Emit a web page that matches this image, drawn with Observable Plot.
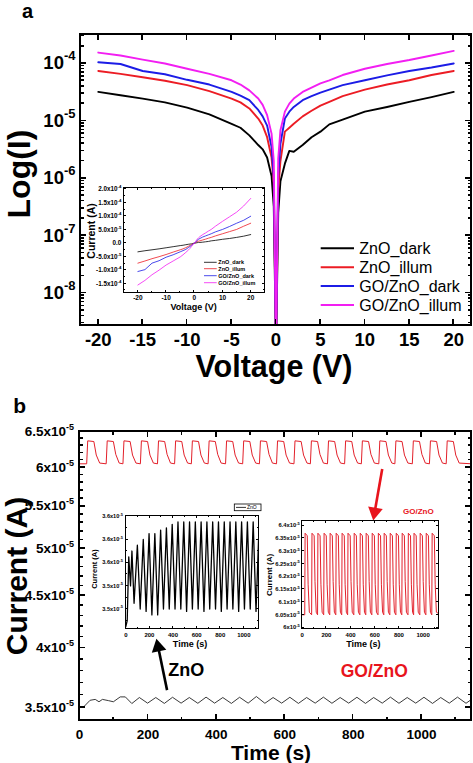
<!DOCTYPE html>
<html><head><meta charset="utf-8">
<script src="https://cdn.jsdelivr.net/npm/d3@7"></script>
<script src="https://cdn.jsdelivr.net/npm/@observablehq/plot@0.6"></script>
<style>
html,body{margin:0;padding:0;background:#fff;}
#fig{position:relative;width:473px;height:763px;overflow:hidden;}
</style></head><body><div id="fig"></div>
<script>
const FONT = '"Liberation Sans", Arial, Helvetica, sans-serif';

// ---------- Panel a: I-V curves (|I| in A) ----------
const voltage = [-20,-17.5,-15,-12.5,-10,-7.5,-5,-4,-3,-2,-1.5,-1,-0.5,-0.25,0,0.25,0.5,1,1.5,2,3,4,5,6,7.5,10,12.5,15,17.5,20];
const znoDark  = [3.2e-5,2.8e-5,2.45e-5,2.1e-5,1.7e-5,1.3e-5,8.9e-6,7.6e-6,5.6e-6,3.8e-6,3.2e-6,2.3e-6,1.1e-6,3.2e-7,1e-9,2.5e-7,8.9e-7,1.8e-6,3.0e-6,2.9e-6,3.8e-6,5.2e-6,6.5e-6,8.7e-6,1.05e-5,1.45e-5,1.75e-5,2.15e-5,2.6e-5,3.2e-5];
const znoIllum = [7.4e-5,6.6e-5,5.75e-5,5.0e-5,4.2e-5,3.3e-5,2.45e-5,2.1e-5,1.65e-5,1.1e-5,8.3e-6,5.2e-6,2.3e-6,8e-7,1e-9,6.3e-7,2.0e-6,6.5e-6,7.6e-6,8.9e-6,1.2e-5,1.5e-5,1.85e-5,2.15e-5,2.7e-5,3.5e-5,4.3e-5,5.1e-5,6.3e-5,7.4e-5];
const goDark   = [1.05e-4,9.8e-5,7.4e-5,6.5e-5,5.2e-5,4.3e-5,3.2e-5,2.75e-5,2.3e-5,1.55e-5,1.2e-5,8.3e-6,3.5e-6,1e-6,1e-9,1.1e-6,4e-6,1.1e-5,1.45e-5,1.75e-5,2.3e-5,2.7e-5,3.1e-5,3.5e-5,4.2e-5,5.1e-5,6.2e-5,7.4e-5,8.5e-5,1.0e-4];
const goIllum  = [1.55e-4,1.38e-4,1.17e-4,1.0e-4,8.1e-5,6.6e-5,5.1e-5,4.3e-5,3.4e-5,2.45e-5,1.9e-5,1.26e-5,6e-6,2e-6,1e-9,2.2e-6,6.9e-6,1.45e-5,2.0e-5,2.45e-5,3.2e-5,3.8e-5,4.5e-5,5.1e-5,6.3e-5,8.1e-5,9.8e-5,1.15e-4,1.38e-4,1.66e-4];
const seriesNames  = ["ZnO_dark","ZnO_illum","GO/ZnO_dark","GO/ZnO_illum"];
const seriesColors = ["#000000","#ec1c24","#1c1ce6","#f21ef2"];
const seriesValues = [znoDark, znoIllum, goDark, goIllum];
const xTicksA = [-20,-15,-10,-5,0,5,10,15,20];
const yTicksA = [1e-8,1e-7,1e-6,1e-5,1e-4];
const insetXTicksA = [-20,-10,0,10,20];
const insetYTicksA = [-1.5e-4,-1e-4,-5e-5,0,5e-5,1e-4,1.5e-4,2e-4];

// ---------- Panel b: transient photocurrent (units of 1e-5 A) ----------
const goZnoTime = [0, 21,24,42,49,59, 78,81,99,106,116, 127,130,148,155,165, 178,181,199,206,216, 228,231,249,256,266, 278,281,299,306,316, 327,330,348,355,365, 376,379,397,404,414, 427,430,448,455,465, 477,480,498,505,515, 526,529,547,554,564, 576,579,597,604,614, 627,630,648,655,665, 675,678,696,703,713, 725,728,746,753,763, 775,778,796,803,813, 824,827,845,852,862, 875,878,896,903,913, 922,925,943,950,960, 973,976,994,1001,1011, 1023,1026,1044,1051,1061, 1072,1075,1093,1100,1110, 1146];
const goZnoCurrent = [6.05, 6.05,6.37,6.36,6.17,6.06, 6.05,6.37,6.36,6.18,6.06, 6.05,6.37,6.36,6.17,6.06, 6.05,6.37,6.36,6.17,6.06, 6.05,6.37,6.36,6.18,6.06, 6.05,6.37,6.36,6.17,6.06, 6.05,6.37,6.36,6.17,6.06, 6.05,6.37,6.36,6.18,6.06, 6.05,6.37,6.36,6.17,6.06, 6.05,6.37,6.36,6.17,6.06, 6.05,6.37,6.36,6.18,6.06, 6.05,6.37,6.36,6.17,6.06, 6.05,6.37,6.36,6.17,6.06, 6.05,6.37,6.36,6.18,6.06, 6.05,6.37,6.36,6.17,6.06, 6.05,6.37,6.36,6.17,6.06, 6.05,6.37,6.36,6.18,6.06, 6.05,6.37,6.36,6.17,6.06, 6.05,6.37,6.36,6.17,6.06, 6.05,6.37,6.36,6.18,6.06, 6.05,6.37,6.36,6.17,6.06, 6.05,6.37,6.36,6.17,6.06, 6.05];
const znoTime = [0,12,31,46,57,67,85,99,119,134,153,175,199,223,248,272,297,321,346,370,395,419,444,468,493,517,542,566,591,615,640,664,689,713,738,762,787,811,836,860,885,909,934,958,983,1007,1032,1056,1081,1105,1130,1146];
const znoCurrent = [3.505,3.505,3.558,3.565,3.546,3.565,3.555,3.546,3.585,3.585,3.532,3.58,3.535,3.58,3.533,3.582,3.535,3.58,3.534,3.583,3.535,3.58,3.533,3.582,3.535,3.588,3.534,3.58,3.535,3.582,3.533,3.58,3.535,3.583,3.534,3.58,3.535,3.582,3.533,3.58,3.535,3.583,3.534,3.58,3.535,3.582,3.533,3.58,3.535,3.583,3.534,3.565];
const znoInsetTime = [0,12,25,40,52,70,98,122,148,172,197,221,246,270,295,319,344,368,393,417,442,466,491,515,540,564,589,613,638,662,687,711,736,760,785,809,834,858,883,907,932,956,981,1005,1030,1054,1079,1103,1128];
const znoInsetCurrent = [3.505,3.51,3.565,3.54,3.57,3.525,3.575,3.52,3.58,3.518,3.585,3.515,3.585,3.515,3.588,3.52,3.59,3.52,3.593,3.52,3.595,3.52,3.595,3.518,3.595,3.52,3.595,3.52,3.595,3.518,3.595,3.52,3.595,3.52,3.595,3.518,3.595,3.52,3.595,3.52,3.595,3.518,3.595,3.52,3.595,3.52,3.595,3.518,3.59];
const yTicksB = [3.5,4,4.5,5,5.5,6,6.5];
const xTicksB = [0,200,400,600,800,1000];
const xMinorB = [100,300,500,700,900,1100];
const znoInsetYTicks = [3.52,3.54,3.56,3.58,3.6];
const goInsetYTicks = [6.0,6.05,6.1,6.15,6.2,6.25,6.3,6.35,6.4];
const insetTimeTicks = [0,200,400,600,800,1000];
const arrowRows = [
  {t1:256, i1:3.64, t2:230, i2:4.01, color:"#000000", rot:-12},
  {t1:885, i1:5.98, t2:863, i2:5.43, color:"#e8141c", rot:-170}
];

// ---------- helpers ----------
const fig = document.getElementById("fig");
function mount(svg, left, top){
  svg.style.position="absolute"; svg.style.left=left+"px"; svg.style.top=top+"px";
  svg.style.overflow="visible"; svg.style.maxWidth="none";
  fig.appendChild(svg); return d3.select(svg);
}
function addText(sel, x, y, text, o={}){
  const t = sel.append("text").attr("x",x).attr("y",y).text(text)
    .attr("font-family",FONT).attr("font-size",o.size||12).attr("font-weight",o.weight||"bold")
    .attr("fill",o.fill||"black").attr("text-anchor",o.anchor||"start");
  if (o.rotate) t.attr("transform",`rotate(${o.rotate},${x},${y})`);
  return t;
}
function supify(sel, supSize, rise){
  sel.selectAll("text").each(function(){
    const s=this.textContent, i=s.indexOf("^"); if(i<0) return;
    const el=d3.select(this); el.text(null);
    el.append("tspan").text(s.slice(0,i));
    el.append("tspan").attr("dy",-rise).attr("font-size",supSize).text(s.slice(i+1));
  });
}
function sci(v, dec){
  if (v===0) return "0.0";
  const e=Math.floor(Math.log10(Math.abs(v))+1e-9);
  const m=v/Math.pow(10,e);
  return (dec==null? String(+m.toFixed(2)) : m.toFixed(dec)) + "x10^" + e;
}
function box(left, top, w, h, css){
  const d=document.createElement("div");
  d.style.cssText=`position:absolute;left:${left}px;top:${top}px;width:${w}px;height:${h}px;${css}`;
  fig.appendChild(d);
}
// frame + inward ticks, positioned with the plot's own scales (page offset offX, offY)
function frameTicks(svg, offX, offY, {xMaj=[],xMin=[],yMaj=[],yMin=[],maj=6,min=3.5,sw=1.5,fw=2.4}){
  const sx=svg.scale("x"), sy=svg.scale("y");
  const x0=sx.range[0]+offX, x1=sx.range[1]+offX, yb=sy.range[0]+offY, yt=sy.range[1]+offY;
  const tick=(l,t,w,h)=>box(l,t,w,h,"background:#000;");
  for (const [vals,len] of [[xMaj,maj],[xMin,min]]) for (const v of vals){ const x=sx.apply(v)+offX; tick(x-sw/2,yb-len,sw,len); tick(x-sw/2,yt,sw,len); }
  for (const [vals,len] of [[yMaj,maj],[yMin,min]]) for (const v of vals){ const y=sy.apply(v)+offY; tick(x0,y-sw/2,len,sw); tick(x1-len,y-sw/2,len,sw); }
  box(x0-fw/2, yt-fw/2, x1-x0+fw, yb-yt+fw, `box-sizing:border-box;border:${fw}px solid #000;`);
}
function yLabels(svg, sel, ticks, fmt, {size, pad, sup, rise}){
  const sy=svg.scale("y"), x0=svg.scale("x").range[0];
  for (const v of ticks) addText(sel, x0-pad, sy.apply(v)+size*0.35, fmt(v), {size, anchor:"end"});
  supify(sel, sup, rise);
}
const rowsA = seriesNames.flatMap((n,s)=>voltage.map((v,i)=>({V:v,I:seriesValues[s][i],s:n})));

// ---------- Panel a main ----------
const logMinor=[]; for(let e=-9;e<=-4;e++) for(let m=2;m<=9;m++){const v=m*Math.pow(10,e); if(v>2.8e-9&&v<3.2e-4) logMinor.push(v);}
const svgA = Plot.plot({
  width:473, height:380, marginLeft:80, marginRight:2, marginTop:34, marginBottom:55,
  x:{domain:[-22,22]}, y:{type:"log", domain:[2.73e-9,3.2e-4]},
  style:{fontFamily:FONT},
  marks:[
    ...seriesNames.map((n,s)=>Plot.line(rowsA.filter(d=>d.s===n),{x:"V",y:"I",stroke:seriesColors[s],strokeWidth:1.9,clip:true})),
    Plot.axisX({ticks:xTicksA,tickSize:0,tickPadding:7,fontSize:18.5,fontWeight:"bold",label:null,tickFormat:d=>String(d)}),
    Plot.axisY({ticks:yTicksA,tickSize:0,tickPadding:5,fontSize:18.5,fontWeight:"bold",label:null,tickFormat:d=>"10^"+Math.round(Math.log10(d))})
  ]
});
const A = mount(svgA,0,0);
supify(A,13,9);
addText(A,22,18,"a",{size:20});
addText(A,274,377,"Voltage (V)",{size:30.5,anchor:"middle"});
addText(A,30,174,"Log(I)",{size:32,anchor:"middle",rotate:-90});
seriesNames.forEach((n,i)=>{
  const y=[248.3,267.3,286,305][i];
  A.append("line").attr("x1",320.7).attr("x2",354).attr("y1",y).attr("y2",y).attr("stroke",seriesColors[i]).attr("stroke-width",2);
  addText(A,359.3,y+5.5,n,{size:16,weight:"normal"});
});

// ---------- Panel a inset (linear) ----------
const rowsAi = rowsA.map(d=>({V:d.V, I:Math.sign(d.V)*d.I, s:d.s}));
const svgAi = Plot.plot({
  width:190, height:133, marginLeft:43.3, marginTop:4.7, marginRight:5.7, marginBottom:23.7,
  x:{domain:[-25,25]}, y:{domain:[-1.84e-4,2.04e-4]},
  style:{fontFamily:FONT},
  marks:[
    ...seriesNames.map((n,s)=>Plot.line(rowsAi.filter(d=>d.s===n),{x:"V",y:"I",stroke:seriesColors[s],strokeWidth:0.8})),
    Plot.axisX({ticks:insetXTicksA,tickSize:0,tickPadding:2.5,fontSize:6.5,fontWeight:"bold",label:null,tickFormat:d=>String(d)}),
    Plot.axisY({ticks:insetYTicksA,tickSize:0,tickPadding:2.5,fontSize:6.3,fontWeight:"bold",label:null,tickFormat:d=>sci(d,1)})
  ]
});
const Ai = mount(svgAi,80,183);
supify(Ai,4.3,2.8);
addText(Ai,193.7-80,309.5-183,"Voltage (V)",{size:9,anchor:"middle"});
addText(Ai,95-80,231-183,"Current (A)",{size:10.5,anchor:"middle",rotate:-90});
seriesNames.forEach((n,i)=>{
  const y=[262.3,268.7,275.7,282.7][i]-183;
  Ai.append("line").attr("x1",204-80).attr("x2",216.7-80).attr("y1",y).attr("y2",y).attr("stroke",seriesColors[i]).attr("stroke-width",0.8);
  addText(Ai,218.3-80,y+2,n,{size:5.5});
});

// ---------- Panel b main ----------
const rowsGo = goZnoTime.map((t,i)=>({t, I:goZnoCurrent[i]}));
const rowsZnO = znoTime.map((t,i)=>({t, I:znoCurrent[i]}));
const minorB=[]; for(let v=34;v<=65;v++){ if(v%5) minorB.push(v/10); }
const svgB = Plot.plot({
  width:473, height:383, marginLeft:79, marginRight:2, marginTop:51, marginBottom:43,
  x:{domain:[0,1146]}, y:{type:"log", domain:[3.4,6.505], axis:null},
  style:{fontFamily:FONT},
  marks:[
    Plot.line(rowsGo,{x:"t",y:"I",stroke:"#e3202a",strokeWidth:1}),
    Plot.line(rowsZnO,{x:"t",y:"I",stroke:"#222",strokeWidth:0.9}),
    Plot.link(arrowRows,{x1:"t1",y1:"i1",x2:"t2",y2:"i2",stroke:"color",strokeWidth:2.6}),
    Plot.dot(arrowRows,{x:"t2",y:"i2",symbol:"triangle",r:5.5,fill:"color",stroke:"none",rotate:"rot"}),
    Plot.axisX({ticks:xTicksB,tickSize:0,tickPadding:9,fontSize:13.5,fontWeight:"bold",label:null,tickFormat:d=>String(d)})
  ]
});
const B = mount(svgB,0,380);
yLabels(svgB, B, yTicksB, d=>sci(d*1e-5), {size:13.5, pad:5, sup:9, rise:6});
addText(B,13.3,413-380,"b",{size:21});
addText(B,271,759.5-380,"Time (s)",{size:21,anchor:"middle"});
addText(B,27,576-380,"Current (A)",{size:30,anchor:"middle",rotate:-90});
addText(B,168.3,676-380,"ZnO",{size:18});
addText(B,340.7,676.7-380,"GO/ZnO",{size:17.5,fill:"#e8141c"});

// ---------- Panel b inset: ZnO ----------
const rowsZi = znoInsetTime.map((t,i)=>({t, I:znoInsetCurrent[i]}));
const svgZ = Plot.plot({
  width:180, height:155, marginLeft:40.3, marginTop:15.7, marginRight:6.3, marginBottom:26.7,
  x:{domain:[0,1130]}, y:{domain:[3.503,3.6]},
  style:{fontFamily:FONT},
  marks:[
    Plot.line(rowsZi,{x:"t",y:"I",stroke:"black",strokeWidth:1.3,clip:true}),
    Plot.axisX({ticks:insetTimeTicks,tickSize:0,tickPadding:3.5,fontSize:6,fontWeight:"bold",label:null,tickFormat:d=>String(d)}),
    Plot.axisY({ticks:znoInsetYTicks,tickSize:0,tickPadding:3,fontSize:5.6,fontWeight:"bold",label:null,tickFormat:d=>sci(d*1e-5,1)})
  ]
});
const Z = mount(svgZ,85,500);
supify(Z,3.9,2.4);
addText(Z,190-85,646.7-500,"Time (s)",{size:9,anchor:"middle"});
addText(Z,96.5-85,569-500,"Current (A)",{size:7.5,anchor:"middle",rotate:-90});
Z.append("rect").attr("x",234.3-85).attr("y",504-500).attr("width",26.7).attr("height",6.7).attr("fill","white").attr("stroke","black").attr("stroke-width",0.8);
Z.append("line").attr("x1",236-85).attr("x2",246-85).attr("y1",507.4-500).attr("y2",507.4-500).attr("stroke","black").attr("stroke-width",0.8);
addText(Z,247-85,509.3-500,"ZnO",{size:5,weight:"normal"});

// ---------- Panel b inset: GO/ZnO ----------
const svgG = Plot.plot({
  width:190, height:155, marginLeft:41.7, marginTop:20, marginRight:11.7, marginBottom:26.7,
  x:{domain:[0,1130]}, y:{domain:[5.995,6.42]},
  style:{fontFamily:FONT},
  marks:[
    Plot.line(rowsGo,{x:"t",y:"I",stroke:"#e3202a",strokeWidth:1,clip:true}),
    Plot.axisX({ticks:insetTimeTicks,tickSize:0,tickPadding:3.5,fontSize:6,fontWeight:"bold",label:null,tickFormat:d=>String(d)}),
    Plot.axisY({ticks:goInsetYTicks,tickSize:0,tickPadding:2.5,fontSize:5.8,fontWeight:"bold",label:null,tickFormat:d=>sci(d*1e-5)})
  ]
});
const G = mount(svgG,260,500);
supify(G,4,2.4);
addText(G,363.3-260,646.5-500,"Time (s)",{size:9,anchor:"middle"});
addText(G,271.5-260,575-500,"Current (A)",{size:8,anchor:"middle",rotate:-90});
addText(G,403-260,514.3-500,"GO/ZnO",{size:8,fill:"#e8141c"});

// ---------- frames and inward ticks (drawn last, above all plots) ----------
frameTicks(svgA, 0, 0, {xMaj:xTicksA,yMaj:yTicksA,yMin:logMinor,maj:6,min:3.5,sw:1.6,fw:2.4});
frameTicks(svgAi, 80, 183, {xMaj:insetXTicksA,xMin:[-15,-5,5,15],yMaj:insetYTicksA,yMin:[-1.75e-4,-1.25e-4,-7.5e-5,-2.5e-5,2.5e-5,7.5e-5,1.25e-4,1.75e-4],maj:2.8,min:1.6,sw:0.8,fw:1});
frameTicks(svgB, 0, 380, {xMaj:xTicksB,xMin:xMinorB,yMaj:yTicksB,yMin:minorB,maj:6,min:3.5,sw:1.6,fw:2.4});
frameTicks(svgZ, 85, 500, {xMaj:insetTimeTicks,xMin:[100,300,500,700,900,1100],yMaj:znoInsetYTicks,yMin:[3.51,3.53,3.55,3.57,3.59],maj:2.8,min:1.6,sw:0.8,fw:1});
frameTicks(svgG, 260, 500, {xMaj:insetTimeTicks,xMin:[100,300,500,700,900,1100],yMaj:goInsetYTicks,maj:2.8,min:1.6,sw:0.8,fw:1});
</script></body></html>
